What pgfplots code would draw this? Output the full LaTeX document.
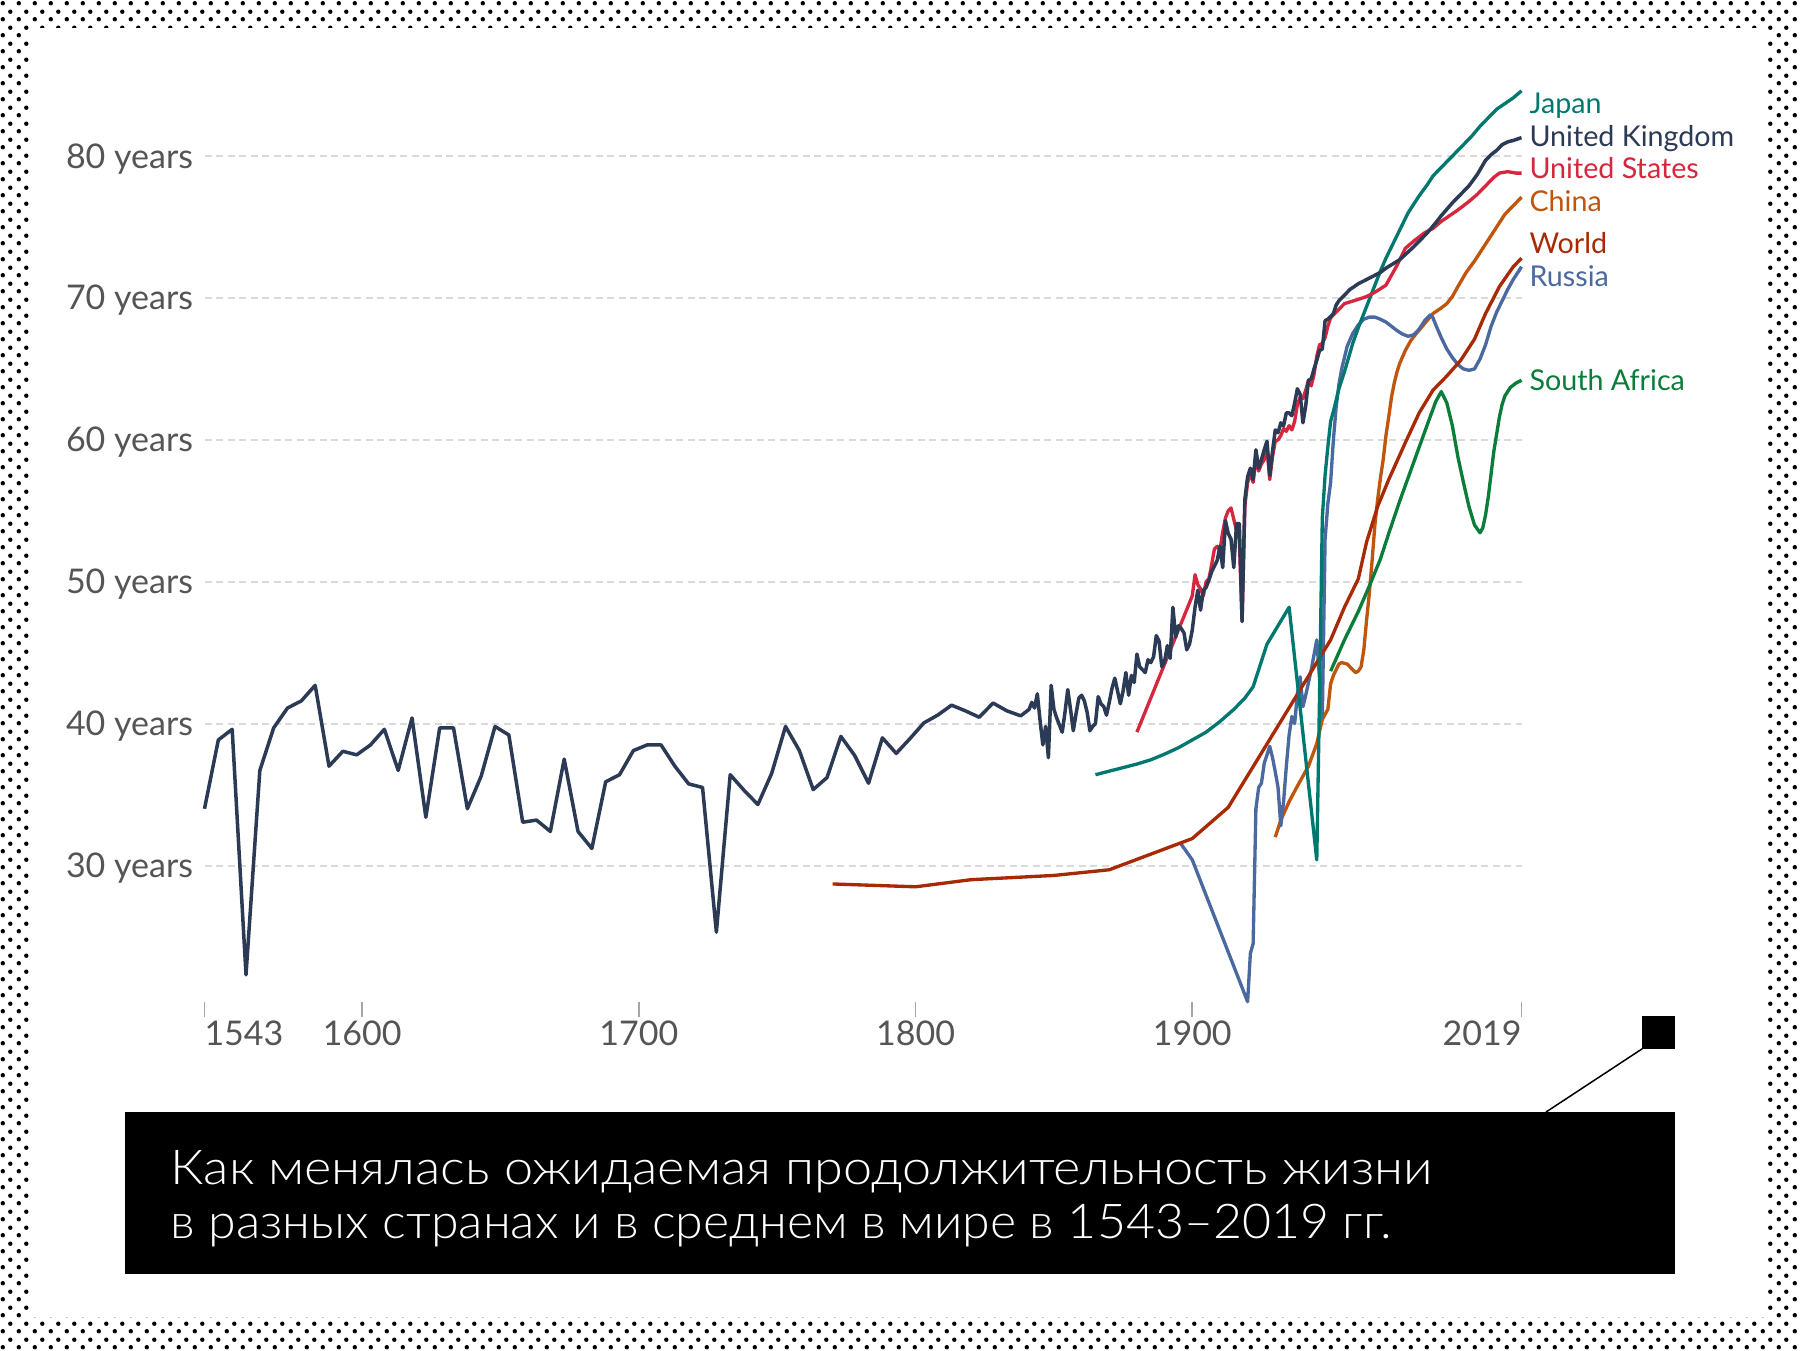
\documentclass[border=0pt]{standalone}
\usepackage{pgfplots}
\pgfplotsset{compat=1.18}
\usepackage{fontspec}
\usepackage{graphicx}
\usetikzlibrary{patterns.meta}
\setmainfont{Lato}
\IfFontExistsTF{Lato Light}{\newfontfamily\capfont{Lato Light}}{\newfontfamily\capfont{Lato}}

\definecolor{cUK}{HTML}{2B3A55}
\definecolor{cUS}{HTML}{D7263D}
\definecolor{cJP}{HTML}{00786F}
\definecolor{cCN}{HTML}{C0560E}
\definecolor{cWD}{HTML}{A82A05}
\definecolor{cRU}{HTML}{4A69A0}
\definecolor{cZA}{HTML}{0B7D3B}
\definecolor{tickc}{HTML}{555555}
\definecolor{gridc}{HTML}{DADADA}

\tikzdeclarepattern{
  name=halftone,
  type=uncolored,
  bottom left={(0pt,0pt)},
  top right={(4.8pt,4.8pt)},
  tile size={(4.8pt,4.8pt)},
  code={
    \pgfpathcircle{\pgfpoint{1.2pt}{1.2pt}}{0.7pt}
    \pgfpathcircle{\pgfpoint{3.6pt}{3.6pt}}{0.7pt}
    \pgfusepath{fill}
  }
}

\begin{document}
\begin{tikzpicture}
\useasboundingbox (0,0) rectangle (540pt,-405pt);
\fill[white] (0,0) rectangle (540pt,-405pt);
\fill[pattern=halftone, pattern color=black] (0,0) rectangle (540pt,-405pt);
\fill[white] (9.6pt,-8.4pt) rectangle (530.4pt,-395.1pt);

\begin{axis}[
  at={(61.35pt,-300.51pt)}, anchor=south west,
  scale only axis, width=395.1pt, height=273.7pt,
  xmin=1543, xmax=2019, ymin=20.4, ymax=84.7,
  clip=false,
  axis line style={draw=none},
  xtick={1543,1600,1700,1800,1900,2019},
  xticklabels={\makebox[0pt][l]{1543},1600,1700,1800,1900,\makebox[0pt][r]{2019}},
  ytick={30,40,50,60,70,80},
  yticklabels={30 years,40 years,50 years,60 years,70 years,80 years},
  xtick pos=left, ytick pos=left,
  tick align=outside,
  major tick length=4.5pt,
  xtick style={draw=black!35, line width=0.5pt},
  ytick style={draw=none},
  ymajorgrids,
  grid style={draw=gridc, dash pattern=on 2.1pt off 1.35pt, line width=0.6pt},
  ticklabel style={font=\fontsize{10.2}{12}\selectfont, text=tickc},
  yticklabel style={anchor=base east, yshift=-3.6pt, xshift=4.6pt},
  xticklabel style={yshift=2.4pt},
  every axis plot/.append style={no markers, line width=1pt, line join=round},
]

% China
\addplot[cCN] coordinates {
(1930,32.0)(1932,33.2)(1935,34.5)(1938,35.6)(1942,37.0)(1945,38.6)(1947,40.3)(1949,41.0)(1950,42.8)(1951,43.4)(1953,44.2)(1954,44.3)(1956,44.2)(1958,43.8)(1959,43.6)(1960,43.7)(1961,44.0)(1962,45.2)(1963,47.3)(1964,49.2)(1965,51.5)(1966,54.0)(1967,55.8)(1968,57.3)(1969,58.6)(1970,60.3)(1971,61.6)(1972,63.0)(1973,64.0)(1974,64.8)(1975,65.4)(1977,66.3)(1979,67.0)(1981,67.5)(1984,68.2)(1987,68.9)(1990,69.3)(1992,69.6)(1994,70.1)(1996,70.8)(1999,71.8)(2002,72.6)(2004,73.2)(2007,74.1)(2010,75.0)(2013,75.9)(2016,76.5)(2019,77.1)
};
% Russia
\addplot[cRU] coordinates {
(1896,31.5)(1900,30.4)(1920,20.4)(1921,23.8)(1922,24.5)(1923,34.0)(1924,35.5)(1925,35.8)(1926,37.2)(1927,37.8)(1928,38.4)(1929,37.6)(1930,36.6)(1931,35.5)(1932,32.8)(1933,34.5)(1934,37.0)(1935,39.2)(1936,40.5)(1937,40.0)(1938,42.1)(1939,43.3)(1940,41.2)(1941,42.0)(1943,43.8)(1945,45.9)(1947,40.4)(1948,53.0)(1949,55.5)(1950,57.0)(1951,60.0)(1952,62.3)(1953,63.9)(1954,65.0)(1955,65.8)(1956,66.6)(1958,67.5)(1960,68.1)(1962,68.5)(1964,68.65)(1966,68.65)(1968,68.5)(1970,68.3)(1972,68.0)(1974,67.7)(1976,67.45)(1978,67.3)(1980,67.4)(1982,67.8)(1984,68.4)(1986,68.8)(1987,68.6)(1988,68.1)(1990,67.2)(1992,66.4)(1994,65.8)(1996,65.3)(1998,65.0)(2000,64.9)(2002,65.0)(2004,65.7)(2006,66.7)(2008,68.0)(2010,69.0)(2012,69.8)(2014,70.6)(2016,71.3)(2019,72.2)
};
% World
\addplot[cWD] coordinates {
(1770,28.7)(1800,28.5)(1820,29.0)(1850,29.3)(1870,29.7)(1900,31.9)(1913,34.1)(1950,45.9)(1955,48.2)(1960,50.2)(1963,52.8)(1967,55.3)(1971,57.2)(1977,59.8)(1982,61.9)(1987,63.5)(1992,64.5)(1997,65.6)(2002,67.1)(2006,68.9)(2011,70.8)(2016,72.2)(2019,72.8)
};
% South Africa
\addplot[cZA] coordinates {
(1950,43.7)(1955,45.9)(1960,47.9)(1964,49.7)(1968,51.6)(1971,53.4)(1975,55.7)(1980,58.4)(1985,61.1)(1988,62.7)(1990,63.4)(1992,62.6)(1994,61.0)(1996,58.8)(1998,57.0)(2000,55.3)(2002,54.0)(2004,53.45)(2005,53.8)(2006,54.7)(2007,56.0)(2008,57.6)(2009,59.2)(2010,60.4)(2011,61.6)(2012,62.5)(2013,63.1)(2015,63.7)(2017,64.0)(2019,64.2)
};
% Japan
\addplot[cJP] coordinates {
(1865,36.4)(1870,36.65)(1875,36.9)(1880,37.15)(1885,37.45)(1890,37.85)(1895,38.3)(1900,38.85)(1905,39.4)(1910,40.15)(1915,41.0)(1919,41.8)(1922,42.6)(1927,45.6)(1935,48.2)(1945,30.4)(1946,42.0)(1947,54.5)(1948,57.5)(1949,59.5)(1950,61.3)(1951,62.0)(1953,63.6)(1955,64.8)(1958,66.8)(1960,67.9)(1963,69.4)(1965,70.4)(1968,71.9)(1970,72.8)(1973,74.0)(1975,74.8)(1978,76.0)(1980,76.6)(1982,77.2)(1985,78.0)(1987,78.6)(1990,79.2)(1993,79.8)(1995,80.2)(1998,80.8)(2001,81.4)(2004,82.1)(2007,82.7)(2010,83.3)(2013,83.7)(2016,84.1)(2019,84.6)
};
% United States
\addplot[cUS] coordinates {
(1880,39.4)(1890,44.2)(1900,49.0)(1901,50.5)(1902,49.8)(1903,49.5)(1904,49.0)(1905,50.0)(1906,50.2)(1907,51.2)(1908,52.3)(1909,52.5)(1910,52.2)(1911,53.5)(1912,54.5)(1913,55.0)(1914,55.2)(1915,54.4)(1916,53.6)(1917,53.0)(1918,47.2)(1919,55.3)(1920,57.0)(1921,57.6)(1922,57.0)(1923,58.7)(1924,57.8)(1925,58.3)(1926,58.6)(1927,59.4)(1928,57.2)(1929,58.8)(1930,59.9)(1931,60.0)(1932,60.3)(1933,60.8)(1934,60.6)(1935,61.0)(1936,60.7)(1937,61.3)(1938,62.5)(1939,63.0)(1940,62.9)(1941,63.5)(1942,64.2)(1943,63.8)(1944,64.6)(1945,65.9)(1946,66.7)(1947,66.8)(1948,67.2)(1949,68.0)(1950,68.6)(1952,69.0)(1955,69.6)(1960,69.9)(1963,70.1)(1966,70.4)(1970,70.9)(1974,72.3)(1977,73.5)(1980,74.0)(1984,74.6)(1987,74.9)(1990,75.4)(1993,75.8)(1996,76.2)(2000,76.8)(2003,77.3)(2006,77.9)(2009,78.5)(2011,78.8)(2014,78.9)(2017,78.8)(2019,78.8)
};
% United Kingdom
\addplot[cUK, line width=1.05pt] coordinates {
(1543,34.0)(1548,38.85)(1553,39.6)(1558,22.3)(1563,36.7)(1568,39.7)(1573,41.1)(1578,41.6)(1583,42.7)(1588,37.0)(1593,38.05)(1598,37.8)(1603,38.5)(1608,39.6)(1613,36.7)(1618,40.4)(1623,33.4)(1628,39.7)(1633,39.7)(1638,34.0)(1643,36.3)(1648,39.8)(1653,39.2)(1658,33.05)(1663,33.2)(1668,32.4)(1673,37.5)(1678,32.4)(1683,31.2)(1688,35.9)(1693,36.4)(1698,38.1)(1703,38.5)(1708,38.5)(1713,37.0)(1718,35.75)(1723,35.5)(1728,25.3)(1733,36.4)(1738,35.3)(1743,34.3)(1748,36.5)(1753,39.8)(1758,38.1)(1763,35.35)(1768,36.2)(1773,39.1)(1778,37.75)(1783,35.8)(1788,39.0)(1793,37.9)(1798,38.95)(1803,40.05)(1808,40.6)(1813,41.3)(1818,40.9)(1823,40.45)(1828,41.45)(1833,40.9)(1838,40.55)
(1841,41.0)(1842,41.5)(1843,41.1)(1844,42.1)(1845,40.2)(1846,38.5)(1847,39.8)(1848,37.6)(1849,42.7)(1850,41.0)(1851,40.4)(1852,39.9)(1853,39.4)(1854,40.8)(1855,42.4)(1856,41.0)(1857,39.5)(1858,40.7)(1859,41.8)(1860,42.0)(1861,41.6)(1862,40.8)(1863,39.5)(1864,39.8)(1865,40.0)(1866,41.9)(1867,41.4)(1868,41.2)(1869,40.6)(1870,41.5)(1871,42.5)(1872,43.2)(1873,42.3)(1874,41.4)(1875,42.3)(1876,43.6)(1877,42.0)(1878,43.4)(1879,42.9)(1880,44.9)(1881,44.0)(1882,43.8)(1883,43.6)(1884,44.5)(1885,44.3)(1886,44.7)(1887,46.2)(1888,45.8)(1889,44.0)(1890,44.4)(1891,45.5)(1892,44.6)(1893,48.2)(1894,46.1)(1895,46.9)(1896,46.7)(1897,46.4)(1898,45.2)(1899,45.6)(1900,46.6)(1901,48.2)(1902,49.4)(1903,48.0)(1904,49.4)(1905,49.6)(1906,50.1)(1907,50.7)(1908,51.1)(1909,51.5)(1910,52.5)(1911,51.0)(1912,54.3)(1913,53.4)(1914,53.0)(1915,51.0)(1916,54.1)(1917,54.1)(1918,47.2)(1919,55.8)(1920,57.4)(1921,58.0)(1922,57.2)(1923,59.3)(1924,58.0)(1925,58.6)(1926,59.3)(1927,59.9)(1928,57.5)(1929,59.2)(1930,60.7)(1931,60.5)(1932,61.2)(1933,61.0)(1934,61.9)(1935,61.9)(1936,61.7)(1937,62.6)(1938,63.6)(1939,63.2)(1940,61.2)(1941,62.4)(1942,64.2)(1943,64.3)(1944,65.0)(1945,65.6)(1946,66.3)(1947,66.4)(1948,68.4)(1949,68.5)(1950,68.7)(1951,68.9)(1952,69.5)(1953,69.8)(1954,70.0)(1955,70.2)(1957,70.6)(1960,71.0)(1962,71.2)(1965,71.5)(1968,71.8)(1970,72.1)(1975,72.7)(1980,73.6)(1982,74.0)(1985,74.6)(1988,75.3)(1990,75.8)(1994,76.7)(1997,77.3)(2000,77.9)(2003,78.7)(2006,79.7)(2008,80.1)(2010,80.4)(2012,80.8)(2014,81.0)(2016,81.1)(2019,81.3)
};

\begin{scope}[every node/.style={anchor=base west, inner sep=0pt, xshift=2.2pt, font=\fontsize{8.6}{10}\selectfont}]
\node[text=cJP] at (axis cs:2019,83.01) {Japan};
\node[text=cUK] at (axis cs:2019,80.66) {United Kingdom};
\node[text=cUS] at (axis cs:2019,78.43) {United States};
\node[text=cCN] at (axis cs:2019,76.12) {China};
\node[text=cWD] at (axis cs:2019,73.14) {World};
\node[text=cRU] at (axis cs:2019,70.84) {Russia};
\node[text=cZA] at (axis cs:2019,63.51) {South Africa};
\end{scope}
\end{axis}

% caption box and pointer
\fill[black] (492.5pt,-304.8pt) rectangle (502.5pt,-314.7pt);
\draw[black, line width=0.45pt] (493.0pt,-314.4pt) -- (463.8pt,-333.6pt);
\fill[black] (37.5pt,-333.6pt) rectangle (502.5pt,-382.2pt);
\node[anchor=base west, inner sep=0pt, text=white] at (51pt,-355.4pt)
  {\resizebox{378.6pt}{\height}{\capfont\fontsize{14.4}{16}\selectfont Как менялась ожидаемая продолжительность жизни}};
\node[anchor=base west, inner sep=0pt, text=white] at (51pt,-371.6pt)
  {\resizebox{366.4pt}{\height}{\capfont\fontsize{14.4}{16}\selectfont в разных странах и в среднем в мире в 1543–2019 гг.}};
\end{tikzpicture}
\end{document}
